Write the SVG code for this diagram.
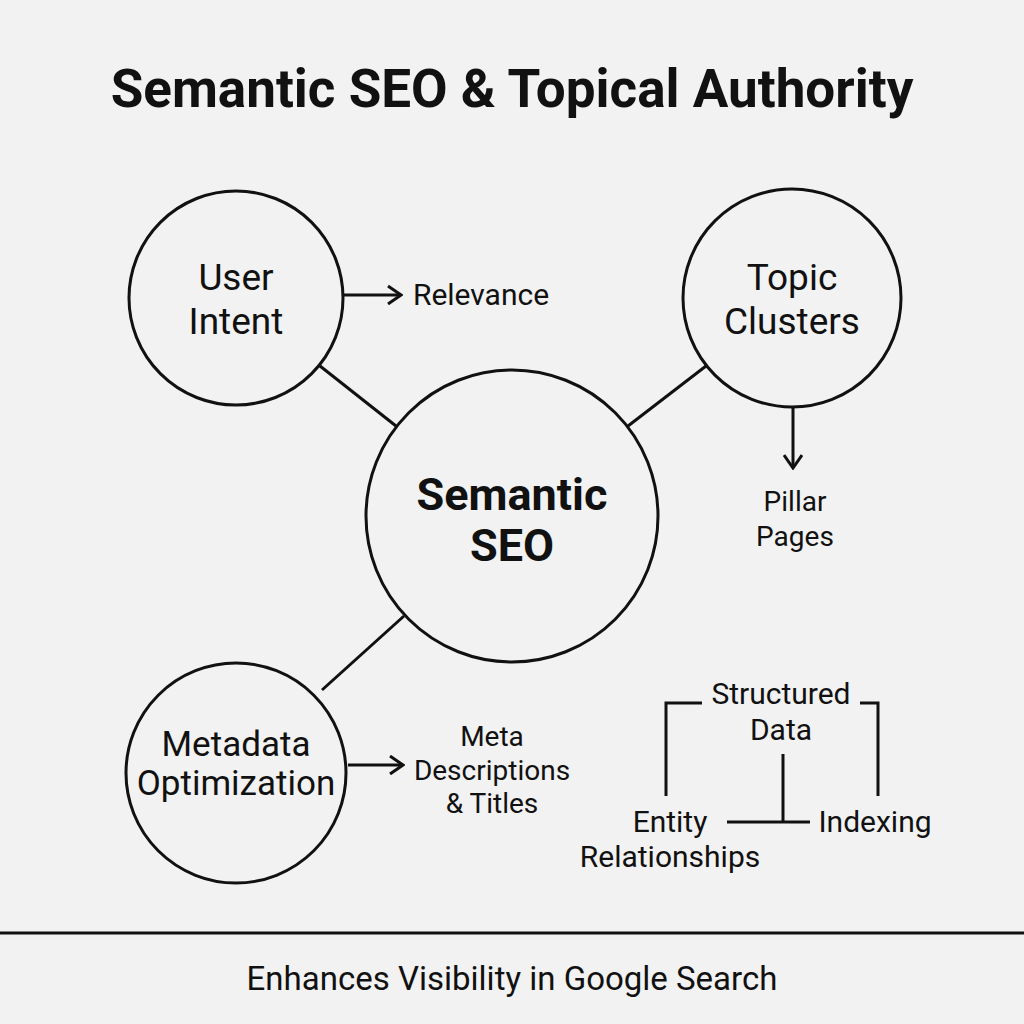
<svg xmlns="http://www.w3.org/2000/svg" width="1024" height="1024" viewBox="0 0 1024 1024">
<defs>
<style>
.n{fill:none;stroke:#111;stroke-width:3}
.c{fill:none;stroke:#111;stroke-width:3}
text{font-family:Roboto,"Liberation Sans",sans-serif;fill:#111;text-anchor:middle}
.t{font-size:53px;font-weight:bold}
.l{font-size:37px}
.m{font-size:35px}
.b{font-size:45px;font-weight:bold}
.s{font-size:28px}
.s2{font-size:30px}
.f{font-size:33px}
</style>
<marker id="ah" viewBox="0 0 20 20" refX="18" refY="10" markerWidth="20" markerHeight="20" markerUnits="userSpaceOnUse" orient="auto">
<path d="M5,1 L18,10 L5,19" fill="none" stroke="#111" stroke-width="3"/>
</marker>
</defs>
<rect width="1024" height="1024" fill="#f2f2f2"/>
<text class="t" x="512" y="107">Semantic SEO &amp; Topical Authority</text>
<g id="connectors">
<line class="c" x1="320" y1="366" x2="396" y2="426"/>
<line class="c" x1="706" y1="366" x2="628" y2="426"/>
<line class="c" x1="404" y1="616" x2="322" y2="690"/>
<line class="c" x1="343" y1="295" x2="401" y2="295" marker-end="url(#ah)"/>
<line class="c" x1="793" y1="406" x2="793" y2="468" marker-end="url(#ah)"/>
<line class="c" x1="348" y1="765" x2="403" y2="765" marker-end="url(#ah)"/>
<path class="c" d="M666,796 V703 H702"/>
<path class="c" d="M860,703 H878 V796"/>
<path class="c" d="M783,754 V822 M727,822 H810"/>
</g>
<g id="user-intent">
<circle class="n" cx="236" cy="298" r="107"/>
<text class="l" x="236" y="290">User</text>
<text class="l" x="236" y="334">Intent</text>
</g>
<g id="topic-clusters">
<circle class="n" cx="792" cy="298" r="109"/>
<text class="l" x="792" y="290">Topic</text>
<text class="l" x="792" y="334">Clusters</text>
</g>
<g id="semantic-seo">
<circle class="n" cx="512" cy="516" r="146"/>
<text class="b" x="512" y="510">Semantic</text>
<text class="b" x="512" y="561">SEO</text>
</g>
<g id="metadata">
<circle class="n" cx="236" cy="773" r="110"/>
<text class="m" x="236" y="756">Metadata</text>
<text class="m" x="236" y="795">Optimization</text>
</g>
<g id="relevance"><text class="s2" x="481" y="305">Relevance</text></g>
<g id="pillar-pages">
<text class="s" x="795" y="511">Pillar</text>
<text class="s" x="795" y="546">Pages</text>
</g>
<g id="meta-desc">
<text class="s" x="492" y="746">Meta</text>
<text class="s" x="492" y="780">Descriptions</text>
<text class="s" x="492" y="813">&amp; Titles</text>
</g>
<g id="structured-data">
<text class="s2" x="781" y="704">Structured</text>
<text class="s2" x="781" y="740">Data</text>
</g>
<g id="entity">
<text class="s2" x="670" y="832">Entity</text>
<text class="s2" x="670" y="867">Relationships</text>
</g>
<g id="indexing"><text class="s2" x="875" y="832">Indexing</text></g>
<line x1="0" y1="933" x2="1024" y2="933" stroke="#111" stroke-width="3"/>
<text class="f" x="512" y="990">Enhances Visibility in Google Search</text>
</svg>
